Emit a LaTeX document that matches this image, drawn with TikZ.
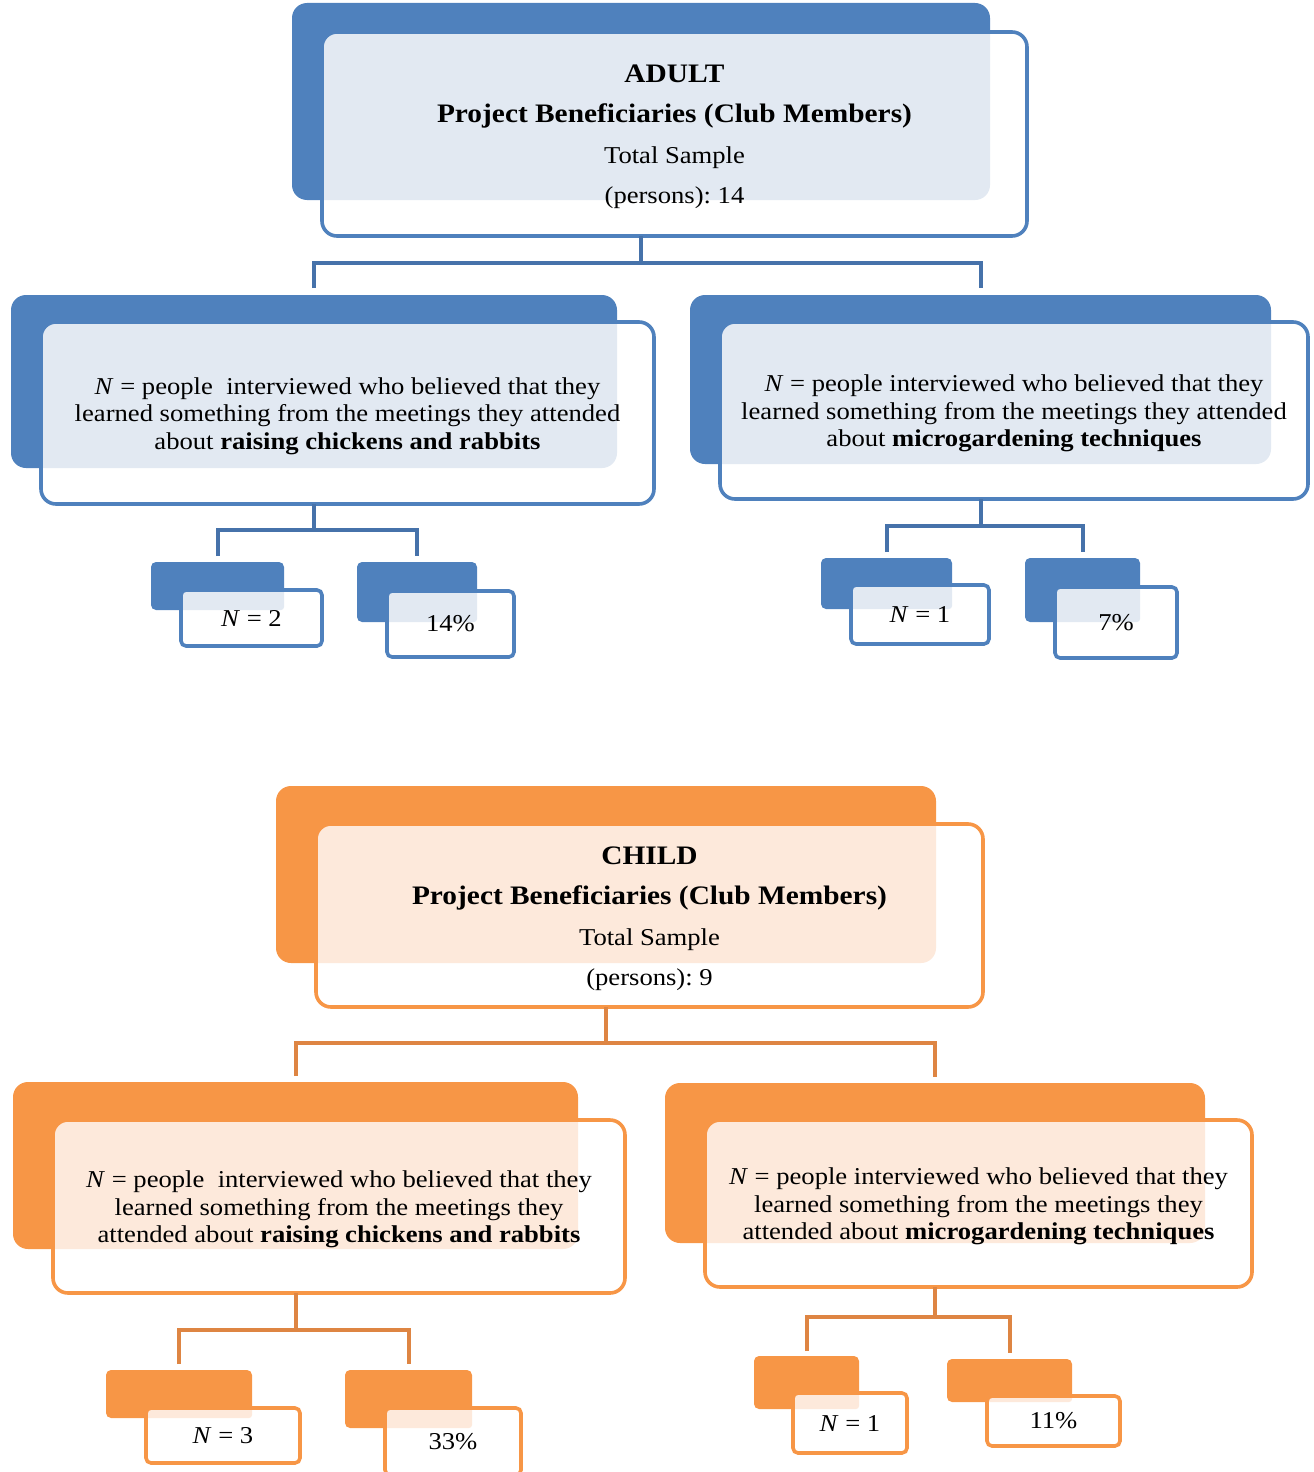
\documentclass[tikz,border=0pt]{standalone}
\usepackage{fontspec}
\setmainfont{Liberation Serif}[FakeStretch=1.1]
\frenchspacing
\usetikzlibrary{fit,calc}
\definecolor{bl}{HTML}{4F81BD}
\definecolor{blc}{HTML}{4672AA}
\definecolor{orng}{HTML}{F79646}
\definecolor{orc}{HTML}{DE8543}
\definecolor{blt}{HTML}{E2E9F2}
\definecolor{ort}{HTML}{FDE9DB}
\newcommand\hdbold[1]{{\fontsize{26.7}{40}\selectfont\bfseries #1}}
\tikzset{
  backbox/.style={fill=#1, draw=none, inner sep=0pt, outer sep=0pt},
  frontbox/.style={fill=white, draw=#1, line width=3.6pt, inner sep=0pt, outer sep=0pt},
  bigr/.style={rounded corners=15pt},
  smr/.style={rounded corners=5pt},
  tintbig/.style 2 args={path picture={\fill[#1, rounded corners=15pt] (#2.south east) rectangle (#2.north west);}},
  tintsmall/.style 2 args={path picture={\fill[#1, rounded corners=3pt] (#2.south east) rectangle (#2.north west);}},
  label text/.style={inner sep=0pt, outer sep=0pt, align=center},
  topfont/.style={label text, yshift=-3pt, font=\fontsize{24.2}{40.5}\selectfont},
  midfont/.style={label text, yshift=-3pt, font=\fontsize{24.2}{27.5}\selectfont},
  smfont/.style={label text, font=\fontsize{24.2}{28}\selectfont},
  connector/.style={draw=#1, line width=4pt},
}
\begin{document}
\begin{tikzpicture}[x=1pt, y=-1pt]
\useasboundingbox (0,0) rectangle (1314,1472);

% ===================== ADULT =====================
\node[backbox=bl, bigr, fit={(292,3)(990,200)}] (aB) {};
\node[frontbox=bl, bigr, tintbig={blt}{aB}, fit={(322,32)(1027,236)}] (aF) {};
\node[topfont] (aT) at (aF.center)
  {\hdbold{ADULT}\\ \hdbold{Project Beneficiaries (Club Members)}\\ Total Sample\\ (persons): 14};

\node[backbox=bl, bigr, fit={(11,295)(617,468)}] (alB) {};
\node[frontbox=bl, bigr, tintbig={blt}{alB}, fit={(41,322)(654,504)}] (alF) {};
\node[midfont] (alT) at (alF.center)
  {\textit{N} = people~ interviewed who believed that they\\ learned something from the meetings they attended\\ about \textbf{raising chickens and rabbits}};

\node[backbox=bl, bigr, fit={(690,295)(1271,464)}] (arB) {};
\node[frontbox=bl, bigr, tintbig={blt}{arB}, fit={(720,322)(1308,499)}] (arF) {};
\node[midfont] (arT) at (arF.center)
  {\textit{N} = people interviewed who believed that they\\ learned something from the meetings they attended\\ about \textbf{microgardening techniques}};

\node[backbox=bl, smr, fit={(151,562)(284,610)}] (a1B) {};
\node[frontbox=bl, smr, tintsmall={blt}{a1B}, fit={(181,590)(322,646)}] (a1F) {};
\node[smfont] (a1T) at (a1F.center) {\textit{N} = 2};
\node[backbox=bl, smr, fit={(357,562)(477,622)}] (a2B) {};
\node[frontbox=bl, smr, tintsmall={blt}{a2B}, fit={(387,591)(514,657)}] (a2F) {};
\node[smfont] (a2T) at (a2F.center) {14\%};
\node[backbox=bl, smr, fit={(821,558)(952,609)}] (a3B) {};
\node[frontbox=bl, smr, tintsmall={blt}{a3B}, fit={(851,585)(989,644)}] (a3F) {};
\node[smfont] (a3T) at (a3F.center) {\textit{N} = 1};
\node[backbox=bl, smr, fit={(1025,558)(1140,622)}] (a4B) {};
\node[frontbox=bl, smr, tintsmall={blt}{a4B}, fit={(1055,587)(1177,658)}] (a4F) {};
\node[smfont] (a4T) at (a4F.center) {7\%};

\draw[connector=blc] (aB |- aF.south) -- ++(0pt,-27pt) coordinate (aJ);
\draw[connector=blc] ($(alB.north)+(0pt,7pt)$) |- (aJ) -| ($(arB.north)+(0pt,7pt)$);
\draw[connector=blc] (alB |- alF.south) -- ++(0pt,-26pt) coordinate (alJ);
\draw[connector=blc] ($(a1B.north)+(0pt,6pt)$) |- (alJ) -| ($(a2B.north)+(0pt,6pt)$);
\draw[connector=blc] (arB |- arF.south) -- ++(0pt,-27pt) coordinate (arJ);
\draw[connector=blc] ($(a3B.north)+(0pt,6pt)$) |- (arJ) -| ($(a4B.north)+(0pt,6pt)$);

% ===================== CHILD =====================
\node[backbox=orng, bigr, fit={(276,786)(936,963)}] (cB) {};
\node[frontbox=orng, bigr, tintbig={ort}{cB}, fit={(316,824)(983,1007)}] (cF) {};
\node[topfont] (cT) at (cF.center)
  {\hdbold{CHILD}\\ \hdbold{Project Beneficiaries (Club Members)}\\ Total Sample\\ (persons): 9};

\node[backbox=orng, bigr, fit={(13,1082)(578,1249)}] (clB) {};
\node[frontbox=orng, bigr, tintbig={ort}{clB}, fit={(53,1120)(625,1293)}] (clF) {};
\node[midfont] (clT) at (clF.center)
  {\textit{N} = people~ interviewed who believed that they\\ learned something from the meetings they\\ attended about \textbf{raising chickens and rabbits}};

\node[backbox=orng, bigr, fit={(665,1083)(1205,1243)}] (crB) {};
\node[frontbox=orng, bigr, tintbig={ort}{crB}, fit={(705,1120)(1252,1287)}] (crF) {};
\node[midfont] (crT) at (crF.center)
  {\textit{N} = people interviewed who believed that they\\ learned something from the meetings they\\ attended about \textbf{microgardening techniques}};

\node[backbox=orng, smr, fit={(106,1370)(252,1418)}] (c1B) {};
\node[frontbox=orng, smr, tintsmall={ort}{c1B}, fit={(146,1408)(300,1463)}] (c1F) {};
\node[smfont] (c1T) at (c1F.center) {\textit{N} = 3};
\node[backbox=orng, smr, fit={(345,1370)(472,1428)}] (c2B) {};
\node[frontbox=orng, smr, tintsmall={ort}{c2B}, fit={(385,1408)(521,1475)}] (c2F) {};
\node[smfont] (c2T) at (c2F.center) {33\%};
\node[backbox=orng, smr, fit={(754,1356)(859,1409)}] (c3B) {};
\node[frontbox=orng, smr, tintsmall={ort}{c3B}, fit={(793,1393)(907,1453)}] (c3F) {};
\node[smfont] (c3T) at (c3F.center) {\textit{N} = 1};
\node[backbox=orng, smr, fit={(947,1359)(1072,1402)}] (c4B) {};
\node[frontbox=orng, smr, tintsmall={ort}{c4B}, fit={(987,1396)(1120,1446)}] (c4F) {};
\node[smfont] (c4T) at (c4F.center) {11\%};

\draw[connector=orc] (cB |- cF.south) -- ++(0pt,-36pt) coordinate (cJ);
\draw[connector=orc] ($(clB.north)+(0pt,6pt)$) |- (cJ) -| ($(crB.north)+(0pt,6pt)$);
\draw[connector=orc] (clB |- clF.south) -- ++(0pt,-37pt) coordinate (clJ);
\draw[connector=orc] ($(c1B.north)+(0pt,6pt)$) |- (clJ) -| ($(c2B.north)+(0pt,6pt)$);
\draw[connector=orc] (crB |- crF.south) -- ++(0pt,-30pt) coordinate (crJ);
\draw[connector=orc] ($(c3B.north)+(0pt,5pt)$) |- (crJ) -| ($(c4B.north)+(0pt,6pt)$);
\end{tikzpicture}
\end{document}
